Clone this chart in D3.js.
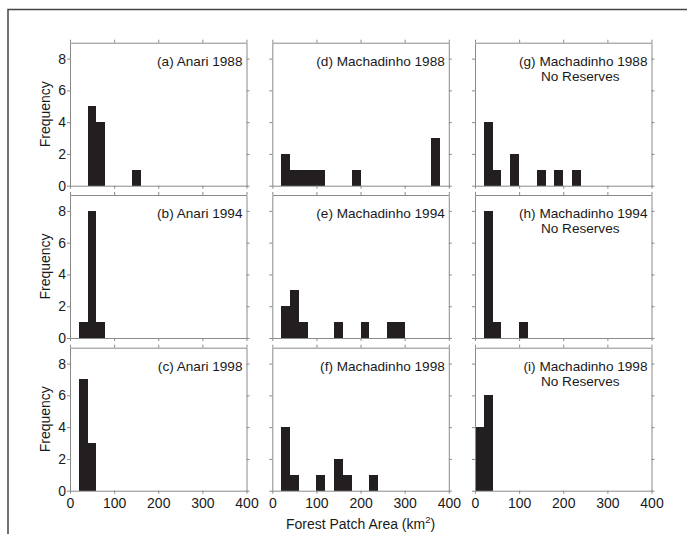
<!DOCTYPE html>
<html>
<head>
<meta charset="utf-8">
<script src="https://cdn.jsdelivr.net/npm/d3@7"></script>
<style>
  body { margin: 0; background: #fff; }
  svg { display: block; font-family: "Liberation Sans", Arial, Helvetica, sans-serif; }
</style>
</head>
<body>
<svg id="chart" width="687" height="534"></svg>
<script>
// bin starts (km2), each bin is 20 km2 wide
const binStarts = [0, 20, 40, 60, 80, 100, 120, 140, 160, 180, 200, 220, 240, 260, 280, 300, 320, 340, 360, 380];
const binWidth = 20;

// counts per bin
const anari1988      = [0, 0, 5, 4, 0, 0, 0, 1, 0, 0, 0, 0, 0, 0, 0, 0, 0, 0, 0, 0];
const anari1994      = [0, 1, 8, 1, 0, 0, 0, 0, 0, 0, 0, 0, 0, 0, 0, 0, 0, 0, 0, 0];
const anari1998      = [0, 7, 3, 0, 0, 0, 0, 0, 0, 0, 0, 0, 0, 0, 0, 0, 0, 0, 0, 0];
const machadinho1988 = [0, 2, 1, 1, 1, 1, 0, 0, 0, 1, 0, 0, 0, 0, 0, 0, 0, 0, 3, 0];
const machadinho1994 = [0, 2, 3, 1, 0, 0, 0, 1, 0, 0, 1, 0, 0, 1, 1, 0, 0, 0, 0, 0];
const machadinho1998 = [0, 4, 1, 0, 0, 1, 0, 2, 1, 0, 0, 1, 0, 0, 0, 0, 0, 0, 0, 0];
const noRes1988      = [0, 4, 1, 0, 2, 0, 0, 1, 0, 1, 0, 1, 0, 0, 0, 0, 0, 0, 0, 0];
const noRes1994      = [0, 8, 1, 0, 0, 1, 0, 0, 0, 0, 0, 0, 0, 0, 0, 0, 0, 0, 0, 0];
const noRes1998      = [4, 6, 0, 0, 0, 0, 0, 0, 0, 0, 0, 0, 0, 0, 0, 0, 0, 0, 0, 0];

const xTicks = [0, 100, 200, 300, 400];
const yTicks = [0, 2, 4, 6, 8];

// panels: column, row, counts, label lines
const panels = [
  { col: 0, row: 0, counts: anari1988, label: ["(a) Anari 1988"] },
  { col: 0, row: 1, counts: anari1994, label: ["(b) Anari 1994"] },
  { col: 0, row: 2, counts: anari1998, label: ["(c) Anari 1998"] },
  { col: 1, row: 0, counts: machadinho1988, label: ["(d) Machadinho 1988"] },
  { col: 1, row: 1, counts: machadinho1994, label: ["(e) Machadinho 1994"] },
  { col: 1, row: 2, counts: machadinho1998, label: ["(f) Machadinho 1998"] },
  { col: 2, row: 0, counts: noRes1988, label: ["(g) Machadinho 1988", "No Reserves"] },
  { col: 2, row: 1, counts: noRes1994, label: ["(h) Machadinho 1994", "No Reserves"] },
  { col: 2, row: 2, counts: noRes1998, label: ["(i) Machadinho 1998", "No Reserves"] }
];

const svg = d3.select("#chart");

// outer frame (top and left only visible)
svg.append("path")
  .attr("d", "M8,534V9.5H687")
  .attr("fill", "none")
  .attr("stroke", "#444")
  .attr("stroke-width", 1.5);

const panelW = 176.5, panelH = 143;
const colX = [70, 272.3, 475];
const rowY = [42.7, 195, 347.7];

const x = d3.scaleLinear().domain([0, 400]).range([0, panelW]);
const y = d3.scaleLinear().domain([0, 9]).range([panelH, 0]);

const frameColor = "#8a8a8a";
const textColor = "#1a1a1a";

panels.forEach(p => {
  const g = svg.append("g")
    .attr("transform", `translate(${colX[p.col]},${rowY[p.row]})`);

  // bars
  const data = binStarts.map((b, i) => ({ x0: b, n: p.counts[i] })).filter(d => d.n > 0);
  g.selectAll(".bar")
    .data(data)
    .enter()
    .append("rect")
    .attr("class", "bar")
    .attr("x", d => x(d.x0))
    .attr("width", d => x(d.x0 + binWidth) - x(d.x0))
    .attr("y", d => y(d.n))
    .attr("height", d => y(0) - y(d.n))
    .attr("fill", "#231f20")
    .attr("shape-rendering", "crispEdges");

  // axes on all four sides, ticks outward
  const bottom = g.append("g").attr("transform", `translate(0,${panelH})`)
    .call(d3.axisBottom(x).tickValues(xTicks).tickSize(3).tickSizeOuter(0)
      .tickFormat(p.row === 2 ? d3.format("d") : ""));
  const top = g.append("g")
    .call(d3.axisTop(x).tickValues(xTicks).tickSize(3).tickSizeOuter(0).tickFormat(""));
  const left = g.append("g")
    .call(d3.axisLeft(y).tickValues(yTicks).tickSize(3).tickSizeOuter(0)
      .tickFormat(p.col === 0 ? d3.format("d") : ""));
  const right = g.append("g").attr("transform", `translate(${panelW},0)`)
    .call(d3.axisRight(y).tickValues(yTicks).tickSize(3).tickSizeOuter(0).tickFormat(""));

  [bottom, top, left, right].forEach(a => {
    a.selectAll("path, line").attr("stroke", frameColor).attr("stroke-width", 1);
    a.selectAll("text").attr("fill", textColor).style("font-size", "14px")
      .style("font-family", "\"Liberation Sans\", Arial, sans-serif");
  });
  left.selectAll("text").attr("x", -4);
  bottom.selectAll("text").attr("y", 7);

  // panel label
  const lab = g.append("text")
    .attr("fill", textColor)
    .style("font-size", "13.6px");
  lab.append("tspan")
    .attr("x", panelW - 4)
    .attr("y", 23)
    .attr("text-anchor", "end")
    .text(p.label[0]);
  if (p.label.length > 1) {
    lab.append("tspan")
      .attr("x", panelW - 32)
      .attr("y", 38)
      .attr("text-anchor", "end")
      .text(p.label[1]);
  }

  if (p.col === 0) {
    g.append("text")
      .attr("transform", `translate(-20,${panelH / 2}) rotate(-90)`)
      .attr("text-anchor", "middle")
      .attr("fill", textColor)
      .style("font-size", "14px")
      .text("Frequency");
  }
});

// x axis title
const title = svg.append("text")
  .attr("x", colX[1] + panelW / 2)
  .attr("y", 529)
  .attr("text-anchor", "middle")
  .attr("fill", textColor)
  .style("font-size", "14px");
title.append("tspan").text("Forest Patch Area (km");
title.append("tspan").attr("dy", -6).style("font-size", "9.5px").text("2");
title.append("tspan").attr("dy", 6).text(")");
</script>
</body>
</html>
